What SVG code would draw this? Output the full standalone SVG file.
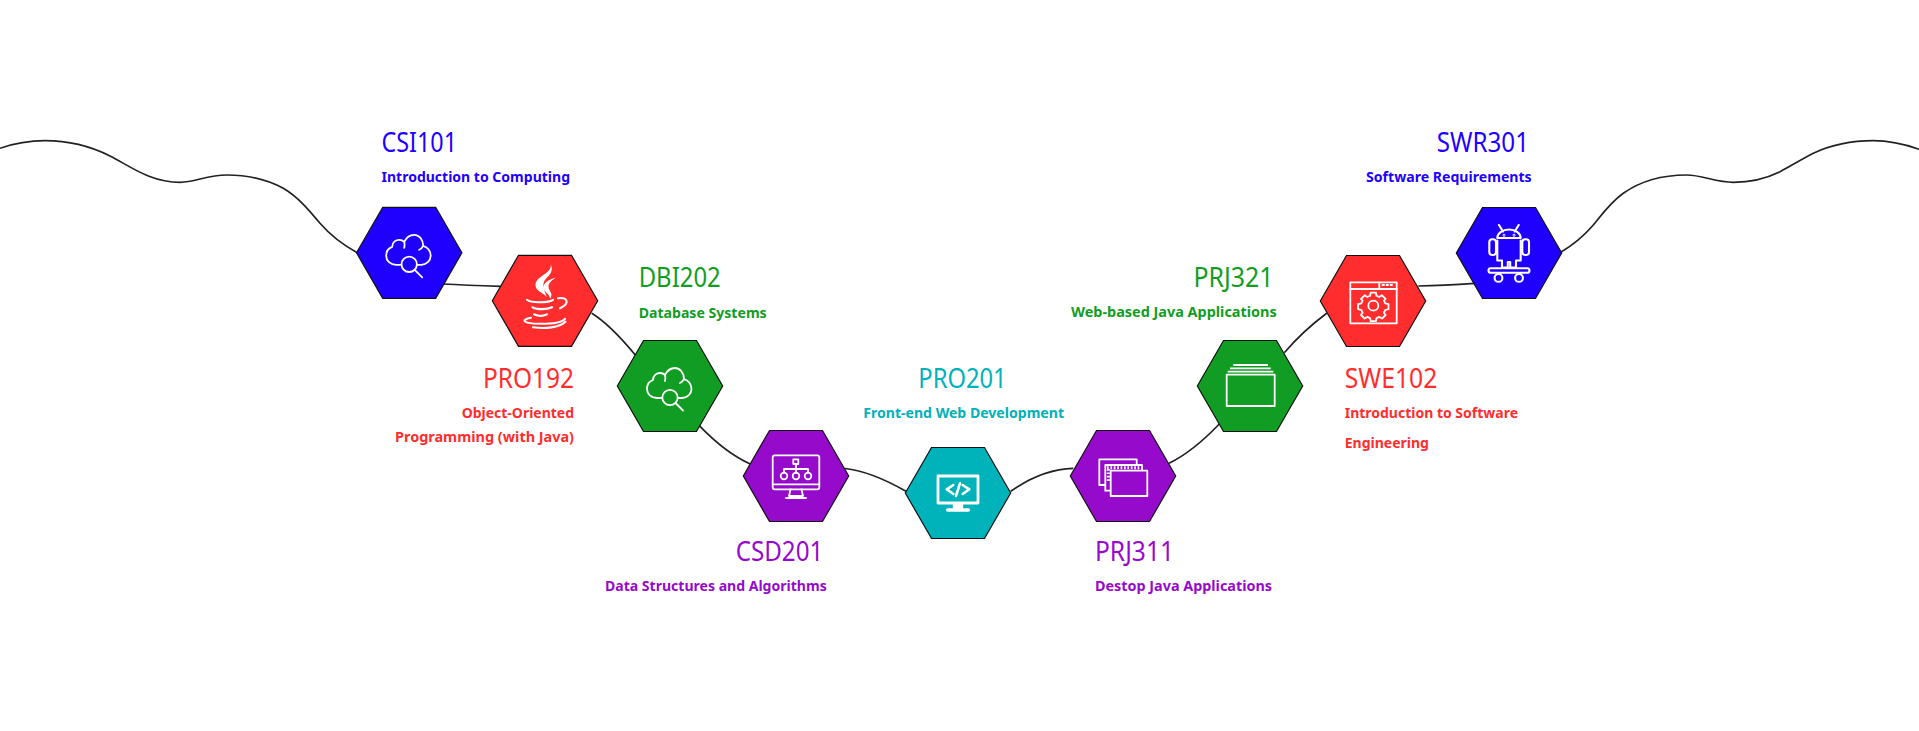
<svg xmlns="http://www.w3.org/2000/svg" width="1919" height="731" viewBox="0 0 1919 731">
<style>
text{font-family:"Noto Sans","Liberation Sans",sans-serif}
.t{font-size:27px;font-weight:400}
.s{font-size:15px;font-weight:700}
.hex{stroke:#111;stroke-width:1.2}
.ic{fill:none;stroke:#fff;stroke-width:1.8;stroke-linecap:round;stroke-linejoin:round}
.conn{fill:none;stroke:#222;stroke-width:1.7}
.blue{fill:#1f00ff}.red{fill:#ff2d2d}.green{fill:#119d24}.purple{fill:#960acb}.teal{fill:#00b2ba}
</style>
<defs>
<polygon id="h" points="-52.7,0 -26.5,-45.5 26.5,-45.5 52.7,0 26.5,45.5 -26.5,45.5"/>
<g id="cloud" class="ic"><path d="M-8 12H-13C-19 12-23 8-23 3C-23-2-20-5-17-6C-17-11-13-13-10-13C-8-13-6-12-5-11C-3-15 1-18 5-18C10-18 14-13 14-7C18-6 21.5-2 21.5 3C21.5 8 17 12 12 12H8M-5-11C-4.5-9-4.5-7-5-5M14-7C13-5 12-4 10-3"/><circle cx="0" cy="11.5" r="7.7"/><path d="M5.5 17L13 24.5"/></g>
</defs>
<g id="connectors" class="conn">
<path d="M0 148.3C14 143.5 29 140.7 45 140.7C70 140.7 92 147 110 156C130 166 150 182.3 180 182.3C195 182.3 207 175 226.7 175C246 175 266 179 283.3 188.3C298 197 309 210 320 223.3C331 236 343 245 357.3 252.7"/>
<path d="M443 284C462 285 482 285.7 500.7 286.3"/>
<path d="M591.7 313.3C606 322 622 339 635.3 355"/>
<path d="M699.3 425.7C715 442 732 456 750.7 464.3"/>
<path d="M845 468.5C868 471 888 481 906 491.3"/>
<path d="M1010.7 491.3C1028 479 1050 469 1073.3 468.3"/>
<path d="M1169 463.3C1188 454 1204 440 1219.3 424"/>
<path d="M1284.3 352.7C1297 338 1311 325 1326.7 313.3"/>
<path d="M1418.3 286C1437 285.5 1456 284.5 1475 283.3"/>
<path d="M1560 252.7C1573 245 1584 236 1593.3 225C1603 213 1611 202 1623.3 193.3C1642 180 1664 175 1686.7 175C1702 175 1716 182.3 1733.3 182.3C1750 182.3 1766 178.5 1780 171.7C1791 166 1802 159 1813.3 153.3C1832 144.5 1852 140.7 1873.3 140.7C1889 140.7 1904 144 1919 149.3"/>
</g>
<g id="CSI101">
<use href="#h" x="409.2" y="252.8" class="hex blue"/>
<use href="#cloud" x="409.2" y="252.8"/>
<text class="t blue" x="381.5" y="151.7" textLength="75.5" lengthAdjust="spacingAndGlyphs">CSI101</text>
<text class="s blue" x="381.5" y="182" textLength="188.5" lengthAdjust="spacingAndGlyphs">Introduction to Computing</text>
</g>
<g id="PRO192">
<use href="#h" x="545" y="300.8" class="hex red"/>
<g transform="translate(545 300.8)"><path fill="#fff" d="M5.7-36.5C7.5-27-9.5-25-9.5-15.5C-9.5-9-.5-8 1.5-3.5C1-9-2.5-11-1.5-17C-.5-24 10-26 5.7-36.5ZM10.7-23C3-21-1.5-18-1.5-13C-1.5-9 5-7 5-2C9-7 3.5-10 3.5-14C3.5-18 6.5-20 10.7-23Z"/><path class="ic" style="stroke-width:2.1" d="M-18-1C-14 2.5 4 2 8-1M-12.5 6.5C-8 9 2 9 7 6.5M-11 13.5C-7 15.5-2 15.5 2 13.5M13-2.5C23-4 25 3 15 7.5M-14 17C-25 19-22 23-5 23C8 23 17 22 20 18M-12 26.5C0 28 14 27 20.5 21"/></g>
<text class="t red" x="483" y="387.7" textLength="91" lengthAdjust="spacingAndGlyphs">PRO192</text>
<text class="s red" x="461.7" y="418" textLength="112.3" lengthAdjust="spacingAndGlyphs">Object-Oriented</text>
<text class="s red" x="395" y="442.3" textLength="179" lengthAdjust="spacingAndGlyphs">Programming (with Java)</text>
</g>
<g id="DBI202">
<use href="#h" x="670" y="386" class="hex green"/>
<use href="#cloud" x="670" y="386"/>
<text class="t green" x="638.7" y="286.7" textLength="82" lengthAdjust="spacingAndGlyphs">DBI202</text>
<text class="s green" x="638.7" y="317.7" textLength="128" lengthAdjust="spacingAndGlyphs">Database Systems</text>
</g>
<g id="CSD201">
<use href="#h" x="796" y="476" class="hex purple"/>
<g transform="translate(796 476)" class="ic"><rect x="-23.3" y="-20.7" width="46.6" height="34" rx="2"/><path d="M-23.3 8.3H23.3M-5.5 13.3L-7 20H7L5.5 13.3M-10 22H10M0-12V-3M-12-3V-7H12V-3"/><rect x="-2.7" y="-16.7" width="5" height="4.7"/><circle cx="-12" cy="0" r="3.3"/><circle cx="0" cy="0" r="3.3"/><circle cx="12" cy="0" r="3.3"/></g>
<text class="t purple" x="735.7" y="560.7" textLength="87.6" lengthAdjust="spacingAndGlyphs">CSD201</text>
<text class="s purple" x="605" y="591.3" textLength="221.7" lengthAdjust="spacingAndGlyphs">Data Structures and Algorithms</text>
</g>
<g id="PRO201">
<use href="#h" x="958" y="493" class="hex teal"/>
<g transform="translate(958 493)" class="ic"><rect x="-20" y="-17" width="40" height="27" style="stroke-width:2.8"/><path d="M-4.7-8L-11.3-3.7L-4.7 1M4.7-8L11.3-3.7L4.7 1M2-9.7L-2 3" style="stroke-width:2.6"/><path d="M-4 11V15H4V11" fill="#fff" style="stroke-width:2.4"/><path d="M-10.3 17H10.3" style="stroke-width:3.6"/></g>
<text class="t teal" x="918.3" y="388.3" textLength="88.4" lengthAdjust="spacingAndGlyphs">PRO201</text>
<text class="s teal" x="863.3" y="418.3" textLength="200.7" lengthAdjust="spacingAndGlyphs">Front-end Web Development</text>
</g>
<g id="PRJ311">
<use href="#h" x="1123" y="476" class="hex purple"/>
<g transform="translate(1123 476)" class="ic"><path d="M-17.7 9H-23.7V-16.7H13.7V-11"/><rect x="-17.7" y="-11" width="36.7" height="25.7"/><path d="M-16-8.3H18M-14.7-7V6" stroke-dasharray="1.7 1.7" style="stroke-linecap:butt;stroke-width:3"/><rect x="-12.3" y="-5.3" width="36.6" height="25.3" fill="#960acb"/></g>
<text class="t purple" x="1095" y="560.7" textLength="79" lengthAdjust="spacingAndGlyphs">PRJ311</text>
<text class="s purple" x="1095" y="591.3" textLength="177" lengthAdjust="spacingAndGlyphs">Destop Java Applications</text>
</g>
<g id="PRJ321">
<use href="#h" x="1250" y="386" class="hex green"/>
<g transform="translate(1250 386)" class="ic"><rect x="-23.3" y="-11.3" width="48" height="31.3"/><path d="M-16.7-21H18M-20-17.7H20.7M-22.3-14.3H23.3" style="stroke-linecap:butt"/></g>
<text class="t green" x="1193.5" y="286.7" textLength="80" lengthAdjust="spacingAndGlyphs">PRJ321</text>
<text class="s green" x="1071" y="317.3" textLength="205.7" lengthAdjust="spacingAndGlyphs">Web-based Java Applications</text>
</g>
<g id="SWE102">
<use href="#h" x="1373" y="301" class="hex red"/>
<g transform="translate(1373 301)" class="ic"><rect x="-22.7" y="-18.7" width="46.4" height="41"/><path d="M-22.7-12H23.7M6.3-18.7V-12M9.5-16H11M13.5-16H15M17.5-16H19"/><circle cx=".3" cy="4.7" r="5"/><path d="M-2.3-8.3H2.9L3.5-5.3L6.3-4L9-5.7L12.6-2L11-.3L12.3 2.4L15.5 3.2V8.2L12.3 9L11 11.7L12.6 14L9 17.6L6.3 15.9L3.5 17.2L2.9 20.2H-2.3L-2.9 17.2L-5.7 15.9L-8.4 17.6L-12 14L-10.4 11.7L-11.7 9L-14.9 8.2V3.2L-11.7 2.4L-10.4-.3L-12-2L-8.4-5.7L-5.7-4L-2.9-5.3Z"/></g>
<text class="t red" x="1344.7" y="387.7" textLength="92.6" lengthAdjust="spacingAndGlyphs">SWE102</text>
<text class="s red" x="1344.7" y="418.3" textLength="173.3" lengthAdjust="spacingAndGlyphs">Introduction to Software</text>
<text class="s red" x="1344.7" y="448" textLength="84.3" lengthAdjust="spacingAndGlyphs">Engineering</text>
</g>
<g id="SWR301">
<use href="#h" x="1509" y="253" class="hex blue"/>
<g transform="translate(1509 253)" class="ic" style="stroke-width:2.1"><path d="M-11.7-15C-11.7-20-6-23.5 0-23.5C6-23.5 11.7-20 11.7-15ZM-10-28L-6-21.5M9.7-28L5.7-21.5M-11.7-12.5V7.5H-7V14.5H-1.2V9H1.2V14.5H7V7.5H11.7V-12.5"/><rect x="-19.7" y="-13.7" width="6.7" height="15.7" rx="3"/><rect x="13.3" y="-13.7" width="6.7" height="15.7" rx="3"/><circle cx="-5" cy="-17.8" r=".4"/><circle cx="5" cy="-17.8" r=".4"/><rect x="-20.5" y="15.2" width="41" height="4.6" rx="2.3"/><circle cx="-10.5" cy="24.9" r="3.9"/><circle cx="10" cy="24.9" r="3.9"/></g>
<text class="t blue" x="1436.7" y="151.7" textLength="92.3" lengthAdjust="spacingAndGlyphs">SWR301</text>
<text class="s blue" x="1366" y="182.3" textLength="165.7" lengthAdjust="spacingAndGlyphs">Software Requirements</text>
</g>
</svg>
